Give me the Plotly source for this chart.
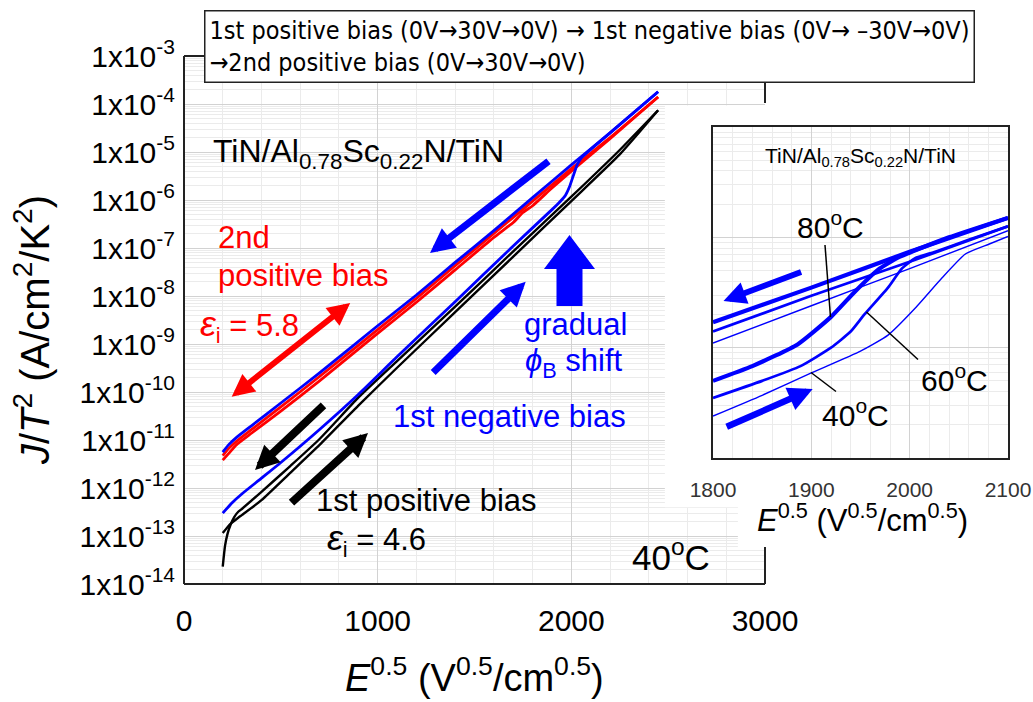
import numpy as np
import plotly.graph_objects as go

W, H = 1033, 702
FONT = "Liberation Sans, Arial, sans-serif"
NARROW = "Liberation Sans Narrow, Arial Narrow, DejaVu Sans Condensed, sans-serif"

# ---------------- main panel data (40 oC) : E^0.5 vs J/T^2 ----------------
# 1st positive bias
e_pos1_up = [200, 212, 225, 240, 260, 280, 300, 400, 550, 700, 900, 1100, 1400, 1700, 2000, 2250, 2448]
j_pos1_up = [2.3e-14, 6.3e-14, 1.12e-13, 1.7e-13, 2.5e-13, 3.2e-13, 3.7e-13, 8.3e-13, 2.9e-12,
             1.05e-11, 7.6e-11, 4.4e-10, 6.0e-9, 8.5e-8, 1.17e-6, 1.1e-5, 7.4e-5]
e_pos1_dn = [2448, 2250, 2000, 1700, 1400, 1100, 900, 700, 550, 400, 300, 280, 240, 200]
j_pos1_dn = [7.4e-5, 8.9e-6, 9.5e-7, 6.6e-8, 4.6e-9, 3.2e-10, 5.2e-11, 7.9e-12, 2.1e-12,
             5.6e-13, 2.75e-13, 2.4e-13, 1.8e-13, 1.15e-13]
# 1st negative bias
e_neg1_up = [200, 250, 300, 400, 500, 700, 900, 1100, 1400, 1700, 1900, 1940, 1970, 1990, 2010,
             2030, 2050, 2200, 2448]
j_neg1_up = [3.0e-13, 5.0e-13, 7.6e-13, 1.6e-12, 3.4e-12, 1.66e-11, 8.9e-11, 5.4e-10, 7.6e-9,
             1.1e-7, 6.3e-7, 9.1e-7, 1.26e-6, 1.86e-6, 3.2e-6, 5.4e-6, 7.4e-6, 2.5e-5, 1.8e-4]
e_neg1_dn = [2448, 2200, 2000, 1800, 1600, 1400, 1200, 1000, 700, 500, 350, 270, 230, 200]
j_neg1_dn = [1.8e-4, 2.5e-5, 5.4e-6, 1.12e-6, 2.3e-7, 5.0e-8, 1.05e-8, 2.4e-9, 2.5e-10, 5.9e-11,
             2.0e-11, 1.12e-11, 7.9e-12, 5.6e-12]
# 2nd positive bias
e_pos2_up = [200, 230, 270, 350, 500, 700, 1000, 1200, 1400, 1600, 1700, 1750, 1800, 1900, 2000,
             2200, 2448]
j_pos2_up = [3.8e-12, 5.2e-12, 7.9e-12, 1.4e-11, 4.0e-11, 1.7e-10, 1.66e-9, 7.4e-9, 3.5e-8,
             1.66e-7, 3.4e-7, 5.5e-7, 7.6e-7, 1.78e-6, 4.0e-6, 1.9e-5, 1.4e-4]
e_pos2_dn = [2448, 2200, 2000, 1800, 1600, 1400, 1200, 1000, 700, 500, 350, 270, 230, 200]
j_pos2_dn = [1.4e-4, 2.0e-5, 4.5e-6, 9.5e-7, 2.0e-7, 4.3e-8, 8.9e-9, 2.0e-9, 2.1e-10, 4.9e-11,
             1.66e-11, 9.3e-12, 6.6e-12, 4.7e-12]

# ---------------- inset data: 1st negative bias at 40/60/80 oC ----------------
e_80_up = [1800, 1840, 1886, 1920, 1944, 1968, 1989, 2040, 2100]
j_80_up = [5.0e-7, 6.8e-7, 1.07e-6, 1.9e-6, 3.2e-6, 5.1e-6, 6.6e-6, 1.0e-5, 1.5e-5]
e_80_dn = [2100, 2000, 1900, 1800]
j_80_dn = [1.5e-5, 7.4e-6, 3.5e-6, 1.7e-6]
e_60_up = [1800, 1850, 1889, 1920, 1940, 1954, 1978, 1992, 2006, 2026, 2060, 2100]
j_60_up = [3.5e-7, 5.0e-7, 6.8e-7, 1.0e-6, 1.4e-6, 2.0e-6, 3.5e-6, 5.2e-6, 6.5e-6, 7.4e-6,
           9.5e-6, 1.26e-5]
e_60_dn = [2100, 2000, 1900, 1800]
j_60_dn = [1.26e-5, 6.0e-6, 2.95e-6, 1.4e-6]
e_40_up = [1800, 1850, 1900, 1950, 1978, 2006, 2033, 2057, 2081, 2100]
j_40_up = [2.4e-7, 3.7e-7, 5.9e-7, 9.3e-7, 1.3e-6, 2.3e-6, 4.3e-6, 7.1e-6, 8.7e-6, 1.02e-5]
e_40_dn = [2100, 2000, 1900, 1800]
j_40_dn = [1.15e-5, 5.2e-6, 2.4e-6, 1.1e-6]

main_xticks = [0, 1000, 2000, 3000]
main_yexp = list(range(-14, -2))
inset_xticks = [1800, 1900, 2000, 2100]


def px(x):
    return x / W


def py(y):
    return 1 - y / H


fig = go.Figure()


def line(x, y, color, width, xa="x", ya="y"):
    fig.add_trace(go.Scatter(x=x, y=y, mode="lines", xaxis=xa, yaxis=ya, showlegend=False,
                             hoverinfo="skip",
                             line=dict(color=color, width=width, shape="spline", smoothing=0.5)))


line(e_pos1_up, j_pos1_up, "#000000", 2.4)
line(e_pos1_dn, j_pos1_dn, "#000000", 2.4)
line(e_pos2_up, j_pos2_up, "#ff0000", 2.8)
line(e_pos2_dn, j_pos2_dn, "#ff0000", 2.8)
line(e_neg1_up, j_neg1_up, "#0000ff", 2.8)
line(e_neg1_dn, j_neg1_dn, "#0000ff", 2.8)

line(e_40_up, j_40_up, "#0000ff", 1.4, "x2", "y2")
line(e_40_dn, j_40_dn, "#0000ff", 1.4, "x2", "y2")
line(e_60_up, j_60_up, "#0000ff", 2.7, "x2", "y2")
line(e_60_dn, j_60_dn, "#0000ff", 2.7, "x2", "y2")
line(e_80_up, j_80_up, "#0000ff", 4.2, "x2", "y2")
line(e_80_dn, j_80_dn, "#0000ff", 4.2, "x2", "y2")

# minor log grid values
minor_main = [k * 10.0 ** e for e in range(-14, -3) for k in range(2, 10)]
minor_inset = [k * 10.0 ** e for e in range(-7, -4) for k in range(2, 10)]

MAJ = "#d2d2d2"
MIN = "#ebebeb"

fig.update_layout(
    width=W, height=H, autosize=False,
    margin=dict(l=0, r=0, t=0, b=0, autoexpand=False),
    paper_bgcolor="white", plot_bgcolor="white",
    font=dict(family=FONT, color="black"),
    xaxis=dict(domain=[px(184), px(765)], range=[0, 3000], tickvals=main_xticks,
               showgrid=True, gridcolor=MAJ, gridwidth=1, zeroline=False, showline=False,
               ticks="", tickfont=dict(size=30, family=FONT, color="black"),
               ticklabelstandoff=16, automargin=False,
               minor=dict(dtick=200, showgrid=True, gridcolor=MIN, gridwidth=1)),
    yaxis=dict(domain=[py(584), py(56)], type="log", range=[-14, -3],
               tickvals=[10.0 ** e for e in main_yexp],
               ticktext=["1x10<sup>%d</sup>" % e for e in main_yexp],
               showgrid=True, gridcolor=MAJ, gridwidth=1, zeroline=False, showline=False,
               ticks="", tickfont=dict(size=30, family=FONT, color="black"),
               ticklabelstandoff=8, automargin=False,
               minor=dict(tickvals=minor_main, showgrid=True, gridcolor=MIN, gridwidth=1)),
    xaxis2=dict(domain=[px(713), px(1008)], range=[1800, 2100], anchor="y2",
                tickvals=inset_xticks, showgrid=True, gridcolor=MAJ, gridwidth=1,
                zeroline=False, showline=True, mirror=True, linecolor="#222222", linewidth=2,
                ticks="", tickfont=dict(size=21, family=FONT, color="#333333"),
                ticklabelstandoff=12, automargin=False,
                minor=dict(dtick=20, showgrid=True, gridcolor=MIN, gridwidth=1)),
    yaxis2=dict(domain=[py(458), py(127)], type="log", range=[-7, -4], anchor="x2",
                tickvals=[1e-7, 1e-6, 1e-5, 1e-4], showticklabels=False,
                showgrid=True, gridcolor=MAJ, gridwidth=1, zeroline=False, automargin=False,
                showline=True, mirror=True, linecolor="#222222", linewidth=2, ticks="",
                minor=dict(tickvals=minor_inset, showgrid=True, gridcolor=MIN, gridwidth=1)),
)

shapes = []
# white cover over the main grid behind the inset area (between grid and traces)
shapes.append(dict(type="rect", xref="x", yref="y", layer="between",
                   x0=2483, x1=3000, y0=10 ** -12.40, y1=10 ** -4.03,
                   fillcolor="white", line=dict(width=0)))
shapes.append(dict(type="rect", xref="x", yref="y", layer="between",
                   x0=2860, x1=3000, y0=10 ** -13.23, y1=10 ** -12.38,
                   fillcolor="white", line=dict(width=0)))
# main frame
for (x0, y0, x1, y1) in [(184, 56, 184, 584), (184, 584, 765, 584), (184, 56, 765, 56),
                         (765, 56, 765, 103), (765, 547, 765, 584)]:
    shapes.append(dict(type="line", xref="paper", yref="paper", layer="above",
                       x0=px(x0), y0=py(y0), x1=px(x1), y1=py(y1),
                       line=dict(color="#222222", width=2)))
# block arrow (gradual phi_B shift)
blk = [(569.5, 235), (595, 269), (582.5, 269), (582.5, 306), (556.5, 306), (556.5, 269), (544, 269)]
path = "M " + " L ".join("%.5f,%.5f" % (px(a), py(b)) for a, b in blk) + " Z"
shapes.append(dict(type="path", xref="paper", yref="paper", path=path, fillcolor="#0000ff",
                   line=dict(width=0), layer="above"))
# inset pointer lines
for (x0, y0, x1, y1) in [(825, 245, 830.5, 317), (866.5, 312, 918, 359.5), (811, 372.5, 836, 391.5)]:
    shapes.append(dict(type="line", xref="paper", yref="paper", layer="above",
                       x0=px(x0), y0=py(y0), x1=px(x1), y1=py(y1),
                       line=dict(color="black", width=1.5)))
fig.update_layout(shapes=shapes)

ann = []


def text(t, x, y, size, color="black", xanchor="left", yanchor="middle", family=FONT, **kw):
    d = dict(text=t, x=px(x), y=py(y), xref="paper", yref="paper", showarrow=False,
             xanchor=xanchor, yanchor=yanchor, font=dict(size=size, color=color, family=family))
    d.update(kw)
    ann.append(d)


def arrow(head, tail, color, width, size, both=False):
    ann.append(dict(text="", x=px(head[0]), y=py(head[1]), xref="paper", yref="paper",
                    ax=tail[0] - head[0], ay=tail[1] - head[1], showarrow=True,
                    arrowhead=2, arrowsize=size, arrowwidth=width, arrowcolor=color,
                    startarrowhead=2, startarrowsize=size,
                    arrowside="end+start" if both else "end", standoff=0, startstandoff=0))


# legend box
text("1st positive bias (0V\u219230V\u21920V) \u2192 1st negative bias (0V\u2192 \u201330V\u21920V)<br>"
     "\u21922nd positive bias (0V\u219230V\u21920V)", 589, 46, 25, xanchor="center",
     family=NARROW, align="left", bgcolor="white", bordercolor="#222222", borderwidth=1.5,
     borderpad=4)

EPS = '<span style="font-size:36px"><i>\u03b5</i></span><sub>i</sub>'

# axis titles
text("<i>E</i><sup>0.5</sup> (V<sup>0.5</sup>/cm<sup>0.5</sup>)", 474, 675, 38, xanchor="center")
text("<i>J</i>/<i>T</i><sup>2</sup> (A/cm<sup>2</sup>/K<sup>2</sup>)", 32, 330, 40,
     xanchor="center", textangle=-90)
text("<i>E</i><sup>0.5</sup> (V<sup>0.5</sup>/cm<sup>0.5</sup>)", 862, 518, 31, xanchor="center")

# main panel labels
text("TiN/Al<sub>0.78</sub>Sc<sub>0.22</sub>N/TiN", 211, 153, 32)
text("2nd", 216, 237, 31, color="#ff0000")
text("positive bias", 216, 276, 31, color="#ff0000")
text(EPS + " = 5.8", 198, 325, 31, color="#ff0000")
text("gradual", 522, 324, 31, color="#0000ff")
text("<i>\u03d5</i><sub>B</sub> shift", 523, 363, 31, color="#0000ff")
text("1st negative bias", 391, 416, 31, color="#0000ff")
text("1st positive bias", 314, 500, 31)
text(EPS + " = 4.6", 325, 539, 31)
text("40<sup>o</sup>C", 630, 555, 35)

# inset labels
text("TiN/Al<sub>0.78</sub>Sc<sub>0.22</sub>N/TiN", 860, 157, 21, xanchor="center")
text("80<sup>o</sup>C", 830, 225, 30, xanchor="center")
text("60<sup>o</sup>C", 954, 378, 30, xanchor="center")
text("40<sup>o</sup>C", 855, 413, 30, xanchor="center")

# arrows
arrow((231.7, 396.7), (351.7, 301.7), "#ff0000", 6, 0.75, both=True)
arrow((430, 253), (550, 160), "#0000ff", 7, 0.7)
arrow((525.7, 281.7), (431.7, 374), "#0000ff", 7, 0.7)
arrow((255, 470), (325, 404), "#000000", 8, 0.6)
arrow((368, 433), (290, 504), "#000000", 8, 0.6)
arrow((723.5, 301), (802.6, 271.4), "#0000ff", 6, 0.75)
arrow((812.7, 389), (725.2, 427.5), "#0000ff", 6.5, 0.75)

fig.update_layout(annotations=ann)
fig.write_html("out.html")
